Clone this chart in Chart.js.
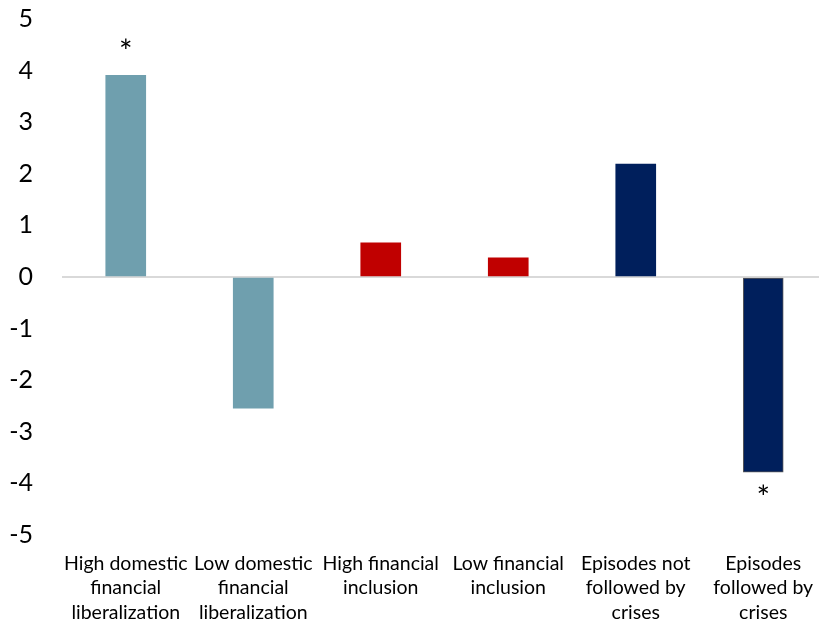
<!DOCTYPE html>
<html>
<head>
<meta charset="utf-8">
<script src="https://cdn.jsdelivr.net/npm/chart.js@4/dist/chart.umd.min.js"></script>
<style>
html,body{margin:0;padding:0;background:#fff;overflow:hidden;}
#wrap{width:827px;height:624px;position:relative;}
</style>
</head>
<body>
<div id="wrap"><canvas id="c"></canvas></div>
<script>
const categories = [
  ["High domestic","financial","liberalization"],
  ["Low domestic","financial","liberalization"],
  ["High financial","inclusion"],
  ["Low financial","inclusion"],
  ["Episodes not","followed by","crises"],
  ["Episodes","followed by","crises"]
];
const values = [3.91, -2.54, 0.66, 0.37, 2.19, -3.78];
const barColors = ["#6f9fae","#6f9fae","#c00000","#c00000","#001f5c","#001f5c"];
const barBorders = ["#6f9fae","#6f9fae","#c00000","#c00000","#001f5c","#595959"];
const stars = ["*","","","","","*"];
const yTicks = [-5,-4,-3,-2,-1,0,1,2,3,4,5];

const FONT = "Lato, 'Open Sans', sans-serif";

const starPlugin = {
  id: 'stars',
  afterDatasetsDraw(chart) {
    const ctx = chart.ctx;
    const meta = chart.getDatasetMeta(0);
    ctx.save();
    ctx.fillStyle = '#000';
    ctx.font = "32px " + FONT;
    ctx.textAlign = 'center';
    ctx.textBaseline = 'middle';
    meta.data.forEach((el, i) => {
      if (!stars[i]) return;
      const v = values[i];
      const y = v >= 0 ? el.y - 23 : el.y + 27;
      ctx.fillText(stars[i], el.x, y);
    });
    ctx.restore();
  }
};

new Chart(document.getElementById('c'), {
  type: 'bar',
  data: {
    labels: categories,
    datasets: [{
      data: values,
      backgroundColor: barColors,
      borderColor: barBorders,
      borderWidth: [0,0,0,0,0,1],
      borderSkipped: false,
      barThickness: 40
    }]
  },
  options: {
    responsive: true,
    maintainAspectRatio: false,
    animation: false,
    devicePixelRatio: 1,
    layout: { padding: { top: 19, right: 0, bottom: 0, left: 0 } },
    plugins: { legend: { display: false }, tooltip: { enabled: false } },
    scales: {
      x: {
        afterFit(axis) {
          axis.height = 89;
          axis.paddingTop = 0; axis.paddingBottom = 0;
          axis.paddingLeft = 0; axis.paddingRight = 0;
        },
        grid: { display: false, drawTicks: false },
        border: { display: false },
        ticks: {
          color: '#000',
          font: { family: FONT, size: 19.5, lineHeight: 1.26 },
          padding: 16,
          maxRotation: 0,
          autoSkip: false
        }
      },
      y: {
        min: -5, max: 5,
        afterBuildTicks(axis) { axis.ticks = yTicks.map(v => ({ value: v })); },
        afterFit(axis) { axis.width = 62; axis.paddingTop = 0; axis.paddingBottom = 0; },
        grid: {
          drawTicks: false,
          color: ctx => ctx.tick && ctx.tick.value === 0 ? '#d9d9d9' : 'rgba(0,0,0,0)',
          lineWidth: ctx => ctx.tick && ctx.tick.value === 0 ? 2 : 0
        },
        border: { display: false },
        ticks: {
          color: '#000',
          font: { family: FONT, size: 25 },
          padding: 29
        }
      }
    }
  },
  plugins: [starPlugin]
});
</script>
</body>
</html>
